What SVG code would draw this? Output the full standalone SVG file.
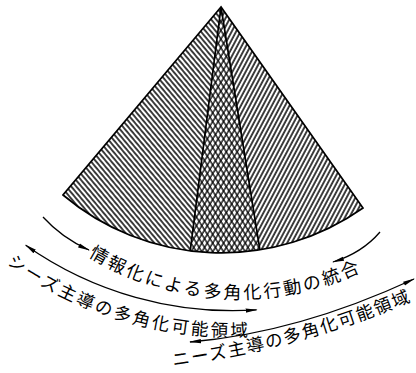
<svg xmlns="http://www.w3.org/2000/svg" xmlns:xlink="http://www.w3.org/1999/xlink" width="416" height="373" viewBox="0 0 416 373">
<style>
.lbl{font-family:"Noto Sans CJK JP","Noto Sans CJK SC",sans-serif;fill:#000;}
.edge{fill:none;stroke:#000;stroke-width:1.7;}
.arr{fill:none;stroke:#000;stroke-width:1.3;}
</style>
<defs>
<pattern id="hatchL" patternUnits="userSpaceOnUse" width="3.9" height="10" patternTransform="rotate(-40)">
<rect width="3.9" height="10" fill="#fff"/>
<line x1="1" y1="0" x2="1" y2="10" stroke="#000" stroke-width="1.5"/>
</pattern>
<pattern id="hatchR" patternUnits="userSpaceOnUse" width="3.9" height="10" patternTransform="rotate(28)">
<rect width="3.9" height="10" fill="#fff"/>
<line x1="1" y1="0" x2="1" y2="10" stroke="#000" stroke-width="1.5"/>
</pattern>
<pattern id="cross1" patternUnits="userSpaceOnUse" width="4.6" height="10" patternTransform="rotate(-32)">
<line x1="1" y1="0" x2="1" y2="10" stroke="#000" stroke-width="1.3"/>
</pattern>
<pattern id="cross2" patternUnits="userSpaceOnUse" width="4.6" height="10" patternTransform="rotate(32)">
<line x1="1" y1="0" x2="1" y2="10" stroke="#000" stroke-width="1.3"/>
</pattern>
<marker id="ah" viewBox="0 0 12 6" refX="11" refY="3" markerWidth="12" markerHeight="6" markerUnits="userSpaceOnUse" orient="auto-start-reverse">
<path d="M0,0.8 L12,3 L0,5.2 Z" fill="#000"/>
</marker>
<path id="tp1" d="M75,247.3 A286,286 0 0 0 422.8,232.1"/>
<path id="tp2" d="M-15.4,246.4 A386,386 0 0 0 299.7,330.8"/>
<path id="tp3" d="M144.4,369.7 A943.7,943.7 0 0 0 517.7,248.5"/>
</defs>
<rect width="416" height="373" fill="#fff"/>

<g id="sector">
<g id="left-region">
<path d="M221,7 L63,195 A246,246 0 0 0 190.2,251.1 Z" fill="url(#hatchL)"/>
</g>
<g id="right-region">
<path d="M221,7 L259.9,249.9 A246,246 0 0 0 363,208 Z" fill="url(#hatchR)"/>
</g>
<g id="center-region">
<path d="M221,7 L190.2,251.1 A246,246 0 0 0 259.9,249.9 Z" fill="#fff"/>
<path d="M221,7 L190.2,251.1 A246,246 0 0 0 259.9,249.9 Z" fill="url(#cross1)"/>
<path d="M221,7 L190.2,251.1 A246,246 0 0 0 259.9,249.9 Z" fill="url(#cross2)"/>
<path class="edge" d="M221,7 L190.2,251.1 M221,7 L259.9,249.9" stroke-width="1.2"/>
</g>
<path class="edge" d="M221,7 L63,195 A246,246 0 0 0 363,208 Z"/>
</g>

<g id="connectors">
<path class="arr" d="M43,217 Q62,238 89,250" marker-end="url(#ah)"/>
<path class="arr" d="M380,232 Q362,253 333,262" marker-end="url(#ah)"/>
<path class="arr" d="M25.7,245.2 A360,360 0 0 0 256.6,309.9" marker-start="url(#ah)" marker-end="url(#ah)"/>
<path class="arr" d="M190,342 Q297.5,333 414,279" marker-start="url(#ah)" marker-end="url(#ah)"/>
</g>

<g id="label-integration">
<text class="lbl" font-size="18" letter-spacing="2.5"><textPath xlink:href="#tp1" startOffset="16">情報化による多角化行動の統合</textPath></text>
</g>
<g id="label-seeds">
<text class="lbl" font-size="17.5" letter-spacing="2.5"><textPath xlink:href="#tp2" startOffset="28">シーズ主導の多角化可能領域</textPath></text>
</g>
<g id="label-needs">
<text class="lbl" font-size="17.5" letter-spacing="1.7"><textPath xlink:href="#tp3" startOffset="29">ニーズ主導の多角化可能領域</textPath></text>
</g>
</svg>
